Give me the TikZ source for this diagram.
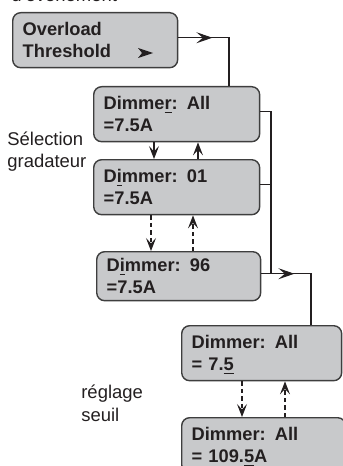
\documentclass[tikz,border=0pt]{standalone}
\usepackage{fontspec}
\setmainfont{Liberation Sans}
\usepackage{xcolor}
\usetikzlibrary{arrows.meta, positioning, calc}

\definecolor{boxfill}{RGB}{200,201,203}
\definecolor{boxline}{RGB}{62,62,62}
\definecolor{inkdark}{RGB}{35,31,32}

\begin{document}
\begin{tikzpicture}[
    x=0.02cm, y=-0.02cm,
    menu/.style={draw=boxline, line width=0.8pt, fill=boxfill, rounded corners=0.16cm, anchor=north west, align=left, inner xsep=0.2cm, inner ysep=0pt, minimum height=1.1cm, text depth=0.44cm, font=\fontsize{10.4}{12.3}\selectfont\bfseries, text=inkdark},
    lbl/.style={anchor=north west, align=left, inner sep=0pt, font=\fontsize{10.5}{12}\selectfont, text=inkdark},
    cutlbl/.style={anchor=base west, inner sep=0pt, font=\fontsize{10.5}{12}\selectfont, text=inkdark},
    wire/.style={draw=inkdark, line width=0.6pt},
    bigtip/.style={-{Stealth[length=3.2mm, width=2.2mm, inset=1.3mm]}},
    nav/.style={wire, -{Stealth[length=2.6mm, width=2mm, inset=1.1mm]}},
    navdash/.style={nav, dash pattern=on 0.09cm off 0.06cm}
]
\useasboundingbox (0,0) rectangle (342,466);

% menu screens
\node[menu, text width=2.9cm] (thr) at (12,12) {Overload\\Threshold};
\node[menu, text width=2.92cm] (dimall) at (93,86) {Dimme\underline{r}: All\\=7.5A};
\node[menu, text width=2.92cm] (dim01) at (93,159) {D\underline{i}mmer: 01\\=7.5A};
\node[menu, text width=2.88cm, minimum height=0.98cm] (dim96) at (96,251) {D\underline{i}mmer: 96\\=7.5A};
\node[menu, text width=2.8cm] (setlo) at (181,325) {Dimmer: All\\= 7.\underline{5}};
\node[menu, text width=2.88cm] (sethi) at (181,417) {Dimmer: All\\= 109.\underline{5}A};

% side labels
\node[cutlbl] (evt) at (11,1.5) {d'événement};
\node[lbl] (selgrad) at (7,132) {Sélection\\gradateur};
\node[lbl] (regseuil) at (81,385) {réglage\\[1pt]seuil};

\fill[inkdark] (138,48) -- (153,53) -- (138,58) -- (142,53) -- cycle;

% right-hand links
\coordinate (busA) at (229,0);
\coordinate (busB) at (271,0);
\coordinate (busC) at (311,0);
\draw[wire] ([yshift=1.4pt]thr.east) -- ([yshift=1.4pt]busA |- thr.east) -- (busA |- dimall.north);
\draw[wire, bigtip] ([yshift=1.4pt]thr.east) -- ++(34,0);
\draw[wire] ([yshift=1.4pt]dimall.east) -- ([yshift=1.4pt]busB |- dimall.east) -- ([yshift=1.4pt]busB |- dim96.east);
\draw[wire] ([yshift=1.4pt]dim01.east) -- ([yshift=1.4pt]busB |- dim01.east);
\draw[wire] ([yshift=1.4pt]dim96.east) -- ([yshift=1.4pt]busC |- dim96.east) -- (busC |- setlo.north);
\draw[wire, bigtip] ([yshift=1.4pt]dim96.east) -- ++(33,0);

% up / down keys
\draw[nav] (154,0 |- dimall.south) -- (154,0 |- dim01.north);
\draw[nav] (198,0 |- dim01.north) -- (198,0 |- dimall.south);
\draw[navdash] (151,0 |- dim01.south) -- (151,0 |- dim96.north);
\draw[navdash] (193,0 |- dim96.north) -- (193,0 |- dim01.south);
\draw[navdash] (242,0 |- setlo.south) -- (242,0 |- sethi.north);
\draw[navdash] (285,0 |- sethi.north) -- (285,0 |- setlo.south);
\end{tikzpicture}
\end{document}
